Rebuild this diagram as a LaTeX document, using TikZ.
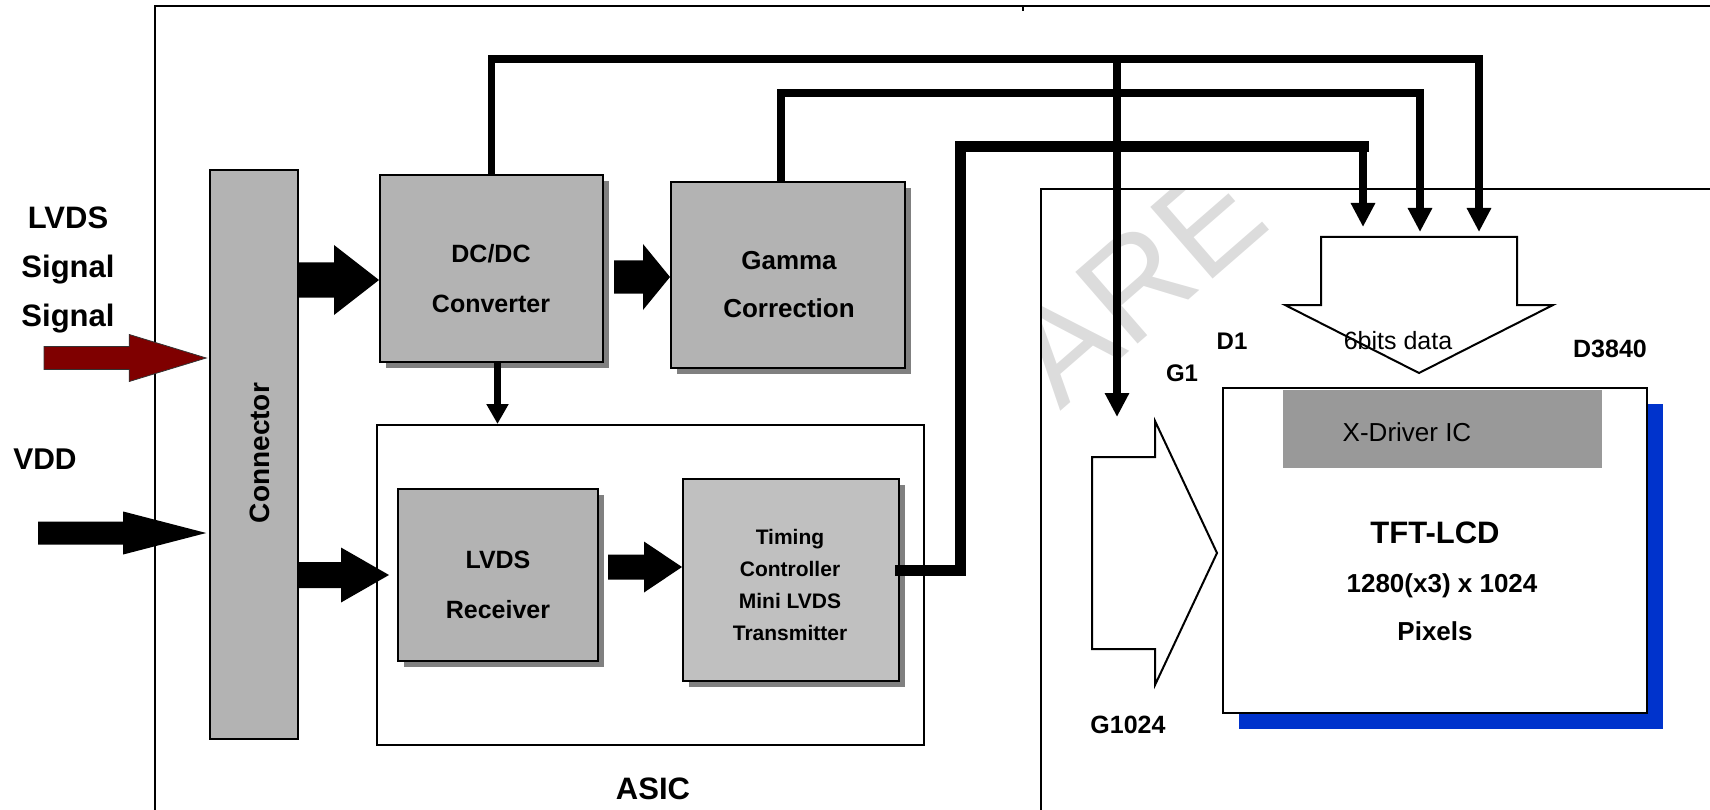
\documentclass[tikz,border=0pt]{standalone}
\usepackage{fontspec}
\setmainfont{Liberation Sans}
\usetikzlibrary{arrows.meta,calc,shadows}

\definecolor{boxgray}{HTML}{B3B3B3}
\definecolor{tcongray}{HTML}{C0C0C0}
\definecolor{shadegray}{HTML}{808080}
\definecolor{drvgray}{HTML}{999999}
\definecolor{panelblue}{HTML}{0033CC}
\definecolor{lvdsred}{HTML}{7F0000}
\definecolor{markgray}{HTML}{DCDCDC}

\newcommand\fsz[2]{\fontsize{#1}{#2}\selectfont}
% fat horizontal arrow: [style]{tail}{tip}{shaft half}{head half}{head length}
\newcommand\fatarrow[6][black]{%
  \fill[#1] ($(#2)+(0,-#4)$) -- ($(#3)+(-#6,-#4)$) -- ($(#3)+(-#6,-#5)$) -- (#3)
    -- ($(#3)+(-#6,#5)$) -- ($(#3)+(-#6,#4)$) -- ($(#2)+(0,#4)$) -- cycle;}

\begin{document}
\begin{tikzpicture}[x=1pt,y=-1pt,
    blockbox/.style={draw, line width=2pt, fill=boxgray, inner sep=0pt,
      drop shadow={shadow xshift=6pt, shadow yshift=-6pt, fill=shadegray, opacity=1}},
    txt/.style={inner sep=0pt, align=center},
    bus/.style={line width=7.5pt},
    bustip/.style={-{Triangle[length=24pt,width=23pt]}},
    hollow/.style={draw, line width=2pt, fill=white},
    frame/.style={line width=1.2pt}]

    \useasboundingbox (0,0) rectangle (1710,810);

    % watermark
    \begin{scope}
        \clip (1041,189) rectangle (1710,810);
        \node[text=markgray, font=\fsz{138}{138}, rotate=41] (wmark) at (1136,283) {ARE};
    \end{scope}

    % frames
    \draw[frame] (155,810) -- (155,6) -- (1710,6);
    \draw[frame] (1023,6) -- (1023,11);
    \draw[frame] (1041,810) -- (1041,189) -- (1710,189);

    % inputs
    \node[txt, font=\bfseries\fsz{31}{49}, anchor=north] (lvdsIn) at (68,207) {LVDS\\Signal\\Signal};
    \node[txt, font=\bfseries\fsz{30}{30}, anchor=base] (vddIn) at (45,469) {VDD};

    \node[draw, line width=1.6pt, fill=boxgray, minimum width=88, minimum height=569] (conn) at (254,454.5) {};
    \node[txt, font=\bfseries\fsz{28}{28}, rotate=90] (connText) at (260,453) {Connector};

    % ASIC
    \node[draw, line width=2pt, fill=white, minimum width=547, minimum height=320] (asic) at (650.5,585) {};
    \node[txt, font=\bfseries\fsz{31}{31}, anchor=base] (asicText) at (653,799) {ASIC};

    \node[blockbox, minimum width=223, minimum height=187] (dcdc) at (491.5,268.5) {};
    \node[txt, font=\bfseries\fsz{25}{50}, anchor=north] (dcdcText) at (491,244) {DC/DC\\Converter};

    \node[blockbox, minimum width=234, minimum height=186] (gamma) at (788,275) {};
    \node[txt, font=\bfseries\fsz{26}{48}, anchor=north] (gammaText) at (789,251) {Gamma\\Correction};

    \node[blockbox, minimum width=200, minimum height=172] (recv) at (498,575) {};
    \node[txt, font=\bfseries\fsz{25}{50}, anchor=north] (recvText) at (498,551) {LVDS\\Receiver};

    \node[blockbox, fill=tcongray, minimum width=216, minimum height=202] (tcon) at (791,580) {};
    \node[txt, font=\bfseries\fsz{21}{31.7}, anchor=north] (tconText) at (790,529.5) {Timing\\Controller\\Mini LVDS\\Transmitter};

    % panel
    \node[draw, line width=2pt, fill=white, minimum width=424, minimum height=325,
        drop shadow={shadow xshift=16pt, shadow yshift=-16pt, fill=panelblue, opacity=1}] (tft) at (1435,550.5) {};
    \node[fill=drvgray, inner sep=0pt, minimum width=319, minimum height=78] (xdrv) at (1442.5,429) {};
    \node[txt, font=\fsz{26}{26}, anchor=base] (xdrvText) at (1407,441) {X-Driver IC};
    \node[txt, font=\bfseries\fsz{31}{31}, anchor=base] (tftText) at (1435,543) {TFT-LCD};
    \node[txt, font=\bfseries\fsz{26}{26}, anchor=base] (resText) at (1442,592) {1280(x3) x 1024};
    \node[txt, font=\bfseries\fsz{26}{26}, anchor=base] (pixText) at (1435,640) {Pixels};

    \draw[hollow] (1321,237) -- (1517,237) -- (1517,305) -- (1553,305) -- (1419,373) -- (1285,305) -- (1321,305) -- cycle;
    \node[txt, font=\fsz{25}{25}, anchor=base] (bitsText) at (1398,349) {6bits data};
    \draw[hollow] (1092,457) -- (1155,457) -- (1155,421) -- (1217,553) -- (1155,685) -- (1155,649) -- (1092,649) -- cycle;

    \node[txt, font=\bfseries\fsz{24}{24}, anchor=base] (d1) at (1232,349) {D1};
    \node[txt, font=\bfseries\fsz{24}{24}, anchor=base] (g1) at (1182,381) {G1};
    \node[txt, font=\bfseries\fsz{25}{25}, anchor=base] (dLast) at (1610,357) {D3840};
    \node[txt, font=\bfseries\fsz{25}{25}, anchor=base] (gLast) at (1128,733) {G1024};

    % buses
    \coordinate (busTop) at (1479,59);
    \coordinate (busMid) at (1420,93);
    \coordinate (busLow) at (1363,147);
    \coordinate (riseLow) at (960,147);
    \coordinate (gTip) at (1117,417);
    \coordinate (dTipA) at (1363,227);
    \coordinate (dTipB) at (1420,232);
    \coordinate (dTipC) at (1479,232);
    \coordinate (gammaUp) at ([xshift=-7pt]gamma.north);
    \coordinate (tconOut) at ([yshift=10pt]tcon.east);
    \coordinate (dcdcOut) at ([xshift=6pt]dcdc.south);

    \draw[bus, bustip] (dcdc.north) |- (busTop) -- (dTipC);
    \draw[bus, bustip] (gTip |- busTop) -- (gTip);
    \draw[bus, bustip] (gammaUp) |- (busMid) -- (dTipB);
    \draw[bus, line width=11pt, line cap=rect] (tconOut) -| (riseLow) -- (busLow);
    \draw[bus, bustip] (busLow) -- (dTipA);
    \draw[bus, -{Triangle[length=20pt,width=21pt]}] (dcdcOut) -- (dcdcOut |- asic.north);

    % fat arrows
    \coordinate (lvdsTail) at (44,358);
    \coordinate (vddTail) at (38,533);
    \coordinate (connIn) at ([xshift=-3pt]conn.west);
    \fatarrow[fill=lvdsred, draw=black!80, line width=0.8pt]{lvdsTail}{connIn |- lvdsTail}{11.5}{23.5}{77}
    \fatarrow{vddTail}{connIn |- vddTail}{11.5}{21.5}{83}

    \coordinate (a1) at ([yshift=-11.5pt]dcdc.west);
    \fatarrow{conn.east |- a1}{a1}{17.5}{35}{45}
    \coordinate (a2) at ([xshift=-8pt]recv.west);
    \fatarrow{conn.east |- a2}{a2}{13}{27.5}{48}
    \coordinate (a3) at ([yshift=-2pt]gamma.west);
    \coordinate (a3s) at ([xshift=10pt]dcdc.east);
    \fatarrow{a3s |- a3}{a3}{16.5}{33}{27}
    \coordinate (a4) at ([yshift=13pt]tcon.west);
    \coordinate (a4s) at ([xshift=9pt]recv.east);
    \fatarrow{a4s |- a4}{a4}{12.5}{25.5}{38}
\end{tikzpicture}
\end{document}
